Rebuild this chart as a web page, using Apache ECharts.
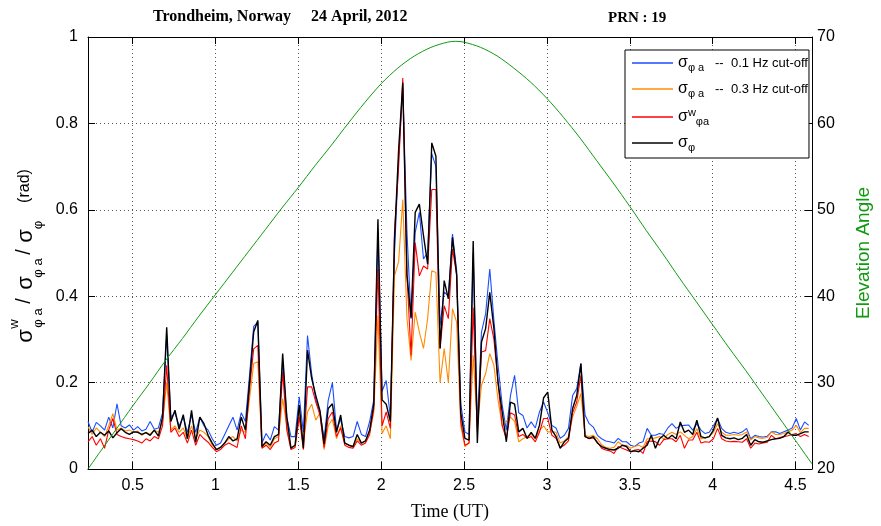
<!DOCTYPE html>
<html>
<head>
<meta charset="utf-8">
<script src="https://cdn.jsdelivr.net/npm/echarts@6/dist/echarts.min.js"></script>
<style>
  html, body { margin: 0; padding: 0; background: #fff; }
  #chart { width: 881px; height: 526px; }
</style>
</head>
<body>
<div id="chart"></div>
<script>
// samples every 1.5 min (0.025 h) starting at 0.23 UT
const startTime = 0.23;
const stepTime = 0.025;

// sigma_phi_a, 0.1 Hz cut-off
const blue = [
  0.11, 0.085, 0.108, 0.1, 0.09, 0.12, 0.095, 0.151, 0.1, 0.095,
  0.102, 0.09, 0.098, 0.088, 0.092, 0.11, 0.092, 0.095, 0.13, 0.31,
  0.12, 0.13, 0.1, 0.12, 0.085, 0.125, 0.085, 0.12, 0.1, 0.09,
  0.07, 0.055, 0.06, 0.08, 0.1, 0.12, 0.09, 0.13, 0.11, 0.217,
  0.33, 0.34, 0.06, 0.082, 0.067, 0.098, 0.09, 0.25, 0.12, 0.075,
  0.075, 0.167, 0.085, 0.309, 0.22, 0.16, 0.132, 0.07, 0.159, 0.2,
  0.09, 0.115, 0.075, 0.072, 0.075, 0.11, 0.08, 0.075, 0.11, 0.16,
  0.548, 0.18, 0.205, 0.12, 0.5, 0.72, 0.88, 0.55, 0.348, 0.548,
  0.594, 0.486, 0.501, 0.73, 0.7, 0.332, 0.41, 0.4, 0.544, 0.46,
  0.15, 0.086, 0.08, 0.5, 0.1, 0.317, 0.359, 0.463, 0.344, 0.24,
  0.148, 0.09, 0.17, 0.217, 0.13, 0.124, 0.095, 0.109, 0.095, 0.132,
  0.155, 0.13, 0.101, 0.095, 0.071, 0.078, 0.094, 0.17, 0.186, 0.244,
  0.125, 0.105, 0.097, 0.078, 0.07, 0.065, 0.063, 0.06, 0.071, 0.063,
  0.063, 0.055, 0.052, 0.06, 0.063, 0.094, 0.078, 0.078, 0.082, 0.08,
  0.095, 0.105, 0.094, 0.1, 0.101, 0.102, 0.09, 0.105, 0.09, 0.082,
  0.085, 0.1, 0.117, 0.094, 0.085, 0.082, 0.085, 0.082, 0.086, 0.094,
  0.07, 0.078, 0.075, 0.074, 0.076, 0.086, 0.086, 0.082, 0.086, 0.09,
  0.095, 0.117, 0.09, 0.109, 0.101
];
// sigma_phi_a, 0.3 Hz cut-off
const orange = [
  0.098, 0.08, 0.095, 0.085, 0.075, 0.1, 0.128, 0.09, 0.095, 0.088,
  0.09, 0.085, 0.088, 0.078, 0.085, 0.08, 0.09, 0.085, 0.11, 0.2,
  0.09, 0.1, 0.085, 0.095, 0.07, 0.1, 0.07, 0.09, 0.085, 0.075,
  0.055, 0.045, 0.05, 0.06, 0.07, 0.075, 0.065, 0.09, 0.085, 0.163,
  0.244, 0.248, 0.05, 0.06, 0.05, 0.07, 0.075, 0.163, 0.1, 0.05,
  0.055, 0.13, 0.06, 0.132, 0.15, 0.113, 0.13, 0.045, 0.1, 0.115,
  0.07, 0.1, 0.06, 0.055, 0.05, 0.07, 0.06, 0.065, 0.085, 0.13,
  0.355, 0.082, 0.1, 0.07, 0.447, 0.48, 0.624, 0.35, 0.251, 0.363,
  0.317, 0.279, 0.348, 0.459, 0.455, 0.2, 0.279, 0.2, 0.371, 0.34,
  0.1, 0.052, 0.06, 0.263, 0.1, 0.194, 0.221, 0.267, 0.24, 0.16,
  0.1, 0.11, 0.12, 0.11, 0.063, 0.07, 0.075, 0.08, 0.07, 0.09,
  0.1, 0.086, 0.086, 0.085, 0.06, 0.065, 0.075, 0.12, 0.145, 0.175,
  0.078, 0.075, 0.078, 0.07, 0.056, 0.05, 0.048, 0.05, 0.063, 0.055,
  0.055, 0.048, 0.052, 0.055, 0.05, 0.07, 0.07, 0.072, 0.075, 0.07,
  0.08, 0.085, 0.08, 0.086, 0.078, 0.07, 0.075, 0.093, 0.07, 0.072,
  0.075, 0.085, 0.105, 0.085, 0.078, 0.078, 0.08, 0.078, 0.08, 0.086,
  0.067, 0.075, 0.072, 0.071, 0.073, 0.086, 0.08, 0.08, 0.082, 0.086,
  0.09, 0.101, 0.084, 0.094, 0.094
];
// sigma^w_phi_a
const red = [
  0.063, 0.075, 0.055, 0.07, 0.048, 0.09, 0.117, 0.08, 0.075, 0.072,
  0.07, 0.068, 0.065, 0.06, 0.07, 0.065, 0.075, 0.07, 0.1, 0.24,
  0.085, 0.095, 0.075, 0.085, 0.06, 0.09, 0.055, 0.08, 0.07, 0.062,
  0.05, 0.04, 0.045, 0.055, 0.06, 0.055, 0.05, 0.1, 0.07, 0.186,
  0.278, 0.286, 0.048, 0.055, 0.045, 0.06, 0.065, 0.225, 0.09, 0.045,
  0.05, 0.12, 0.045, 0.19, 0.19, 0.155, 0.125, 0.05, 0.117, 0.132,
  0.075, 0.095, 0.055, 0.05, 0.048, 0.065, 0.055, 0.06, 0.08, 0.14,
  0.463, 0.1, 0.132, 0.094, 0.55, 0.7, 0.905, 0.45, 0.263, 0.524,
  0.447, 0.47, 0.463, 0.647, 0.647, 0.279, 0.378, 0.348, 0.509, 0.45,
  0.11, 0.055, 0.06, 0.374, 0.086, 0.271, 0.274, 0.348, 0.3, 0.2,
  0.1, 0.07, 0.13, 0.125, 0.075, 0.08, 0.071, 0.075, 0.063, 0.085,
  0.117, 0.117, 0.078, 0.071, 0.05, 0.055, 0.065, 0.13, 0.155, 0.217,
  0.075, 0.07, 0.072, 0.062, 0.048, 0.044, 0.042, 0.036, 0.052, 0.048,
  0.044, 0.04, 0.044, 0.045, 0.036, 0.063, 0.065, 0.063, 0.055, 0.068,
  0.07, 0.07, 0.063, 0.078, 0.048, 0.067, 0.067, 0.085, 0.06, 0.063,
  0.062, 0.07, 0.094, 0.07, 0.065, 0.063, 0.064, 0.063, 0.062, 0.07,
  0.048, 0.06, 0.058, 0.06, 0.062, 0.078, 0.07, 0.073, 0.075, 0.077,
  0.08, 0.082, 0.075, 0.08, 0.075
];
// sigma_phi
const black = [
  0.082, 0.09, 0.075, 0.085, 0.078, 0.088, 0.072, 0.084, 0.093, 0.085,
  0.08, 0.086, 0.085, 0.08, 0.084, 0.078, 0.09, 0.076, 0.12, 0.328,
  0.11, 0.136, 0.092, 0.126, 0.07, 0.136, 0.062, 0.12, 0.105, 0.078,
  0.06, 0.045, 0.05, 0.06, 0.075, 0.065, 0.07, 0.12, 0.09, 0.2,
  0.317, 0.344, 0.052, 0.063, 0.055, 0.075, 0.08, 0.267, 0.12, 0.048,
  0.055, 0.148, 0.048, 0.275, 0.21, 0.17, 0.135, 0.058, 0.14, 0.151,
  0.085, 0.125, 0.06, 0.055, 0.052, 0.08, 0.06, 0.065, 0.09, 0.15,
  0.578, 0.16, 0.15, 0.11, 0.53, 0.74, 0.894, 0.45, 0.35, 0.594,
  0.613, 0.54, 0.474, 0.755, 0.724, 0.279, 0.436, 0.394, 0.536, 0.45,
  0.13, 0.071, 0.067, 0.528, 0.06, 0.294, 0.325, 0.409, 0.325, 0.2,
  0.132, 0.063, 0.155, 0.15, 0.086, 0.094, 0.071, 0.085, 0.071, 0.101,
  0.165, 0.178, 0.09, 0.075, 0.048, 0.063, 0.071, 0.14, 0.17, 0.244,
  0.075, 0.071, 0.075, 0.06, 0.052, 0.048, 0.045, 0.044, 0.048, 0.055,
  0.052, 0.04, 0.042, 0.04, 0.048, 0.055, 0.078, 0.048, 0.07, 0.078,
  0.07, 0.078, 0.07, 0.109, 0.085, 0.09, 0.08, 0.113, 0.075, 0.072,
  0.075, 0.09, 0.118, 0.078, 0.072, 0.07, 0.072, 0.068, 0.071, 0.08,
  0.055, 0.068, 0.063, 0.062, 0.065, 0.068, 0.07, 0.071, 0.075, 0.085,
  0.078, 0.078, 0.082, 0.086, 0.086
];

// elevation angle (deg)
const elevTime = [0.23, 0.3, 0.4, 0.5, 0.6, 0.7, 0.8, 0.9, 1.0, 1.1, 1.2, 1.3, 1.4, 1.5,
  1.6, 1.7, 1.8, 1.9, 2.0, 2.1, 2.2, 2.3, 2.4, 2.45, 2.5, 2.6, 2.7, 2.8, 2.9, 3.0,
  3.1, 3.2, 3.3, 3.4, 3.5, 3.6, 3.7, 3.8, 3.9, 4.0, 4.1, 4.2, 4.3, 4.4, 4.5, 4.6];
const elevation = [20.0, 21.9, 24.6, 27.3, 29.9, 32.6, 35.1, 37.7, 40.2, 42.7, 45.2, 47.7, 50.2, 52.6,
  55.1, 57.5, 60.0, 62.4, 64.6, 66.4, 67.8, 68.8, 69.4, 69.5, 69.4, 68.8, 67.8, 66.4, 64.8, 62.9,
  60.7, 58.3, 55.7, 53.1, 50.4, 47.6, 44.9, 42.1, 39.4, 36.7, 34.0, 31.4, 28.7, 26.0, 23.3, 20.6];

const names = ['s01', 's03', 'sw', 'sphi'];
const legendText = {
  s01: '{s|σ}{sub|φ a}{t|   --  0.1 Hz cut-off}',
  s03: '{s|σ}{sub|φ a}{t|   --  0.3 Hz cut-off}',
  sw: '{s|σ}{sup|w}{sub|φa}',
  sphi: '{s|σ}{sub|φ}'
};

const times = blue.map((_, i) => +(startTime + i * stepTime).toFixed(3));
const pair = arr => arr.map((v, i) => [times[i], v]);

const sans = '"Liberation Sans", Arial, Helvetica, sans-serif';
const serif = '"Liberation Serif", "Times New Roman", serif';

const chart = echarts.init(document.getElementById('chart'));

const tickStyle = { inside: true, length: 7, lineStyle: { color: '#000', width: 1 } };
const dotted = { show: true, lineStyle: { color: '#555', type: [1, 3], width: 1 } };

chart.setOption({
  animation: false,
  backgroundColor: '#fff',
  title: [
    { text: 'Trondheim, Norway     24 April, 2012', left: 153, top: 9, padding: 0,
      textStyle: { fontFamily: serif, fontWeight: 'bold', fontSize: 16, color: '#000' } },
    { text: 'PRN : 19', left: 608, top: 11, padding: 0,
      textStyle: { fontFamily: serif, fontWeight: 'bold', fontSize: 15, color: '#000' } }
  ],
  grid: { left: 88, right: 63, top: 37, bottom: 55, containLabel: false },
  legend: {
    data: names,
    orient: 'vertical',
    left: 625, top: 50,
    padding: [5, 1, 5, 7],
    itemGap: 8,
    itemWidth: 41,
    itemHeight: 1.3,
    icon: 'rect',
    backgroundColor: '#fff',
    borderColor: '#000',
    borderWidth: 1,
    borderRadius: 0,
    formatter: name => legendText[name],
    textStyle: {
      color: '#000',
      fontFamily: sans,
      rich: {
        s: { fontSize: 16, fontFamily: sans, lineHeight: 20, verticalAlign: 'middle' },
        sub: { fontSize: 11, fontFamily: sans, lineHeight: 9, verticalAlign: 'bottom' },
        sup: { fontSize: 11, fontFamily: sans, lineHeight: 11, verticalAlign: 'top' },
        t: { fontSize: 13, fontFamily: sans, lineHeight: 20, verticalAlign: 'middle' }
      }
    }
  },
  xAxis: [
    {
      type: 'value', min: 0.23, max: 4.6, splitNumber: 8,
      name: 'Time (UT)', nameLocation: 'middle', nameGap: 34,
      nameTextStyle: { fontFamily: serif, fontSize: 18, color: '#000' },
      axisLine: { show: true, onZero: false, lineStyle: { color: '#000', width: 1 } },
      axisTick: tickStyle,
      axisLabel: { fontFamily: sans, fontSize: 16, color: '#000', margin: 9,
        showMinLabel: false, showMaxLabel: false },
      splitLine: dotted
    },
    {
      type: 'value', position: 'top', min: 0.23, max: 4.6, splitNumber: 8,
      axisLine: { show: true, onZero: false, lineStyle: { color: '#000', width: 1 } },
      axisTick: tickStyle,
      axisLabel: { show: false },
      splitLine: { show: false }
    }
  ],
  yAxis: [
    {
      type: 'value', min: 0, max: 1, interval: 0.2,
      axisLine: { show: true, lineStyle: { color: '#000', width: 1 } },
      axisTick: tickStyle,
      axisLabel: { fontFamily: sans, fontSize: 16, color: '#000', margin: 10 },
      splitLine: dotted
    },
    {
      type: 'value', position: 'right', min: 20, max: 70, interval: 10,
      name: 'Elevation Angle', nameLocation: 'middle', nameGap: 42, nameRotate: 90,
      nameTextStyle: { fontFamily: sans, fontSize: 19, color: '#119911' },
      axisLine: { show: true, lineStyle: { color: '#000', width: 1 } },
      axisTick: tickStyle,
      axisLabel: { fontFamily: sans, fontSize: 16, color: '#000', margin: 5 },
      splitLine: { show: false }
    }
  ],
  graphic: [
    {
      type: 'group', x: 32, y: 345, rotation: Math.PI / 2,
      children: [
        { type: 'text', x: 9, y: -6, style: { text: 'σ', fontSize: 22, fontFamily: sans, fill: '#000', align: 'center', verticalAlign: 'middle' } },
        { type: 'text', x: 21, y: -18, style: { text: 'w', fontSize: 13, fontFamily: sans, fill: '#000', align: 'center', verticalAlign: 'middle' } },
        { type: 'text', x: 27, y: 6, style: { text: 'φ a', fontSize: 13, fontFamily: sans, fill: '#000', align: 'center', verticalAlign: 'middle' } },
        { type: 'text', x: 44, y: -8, style: { text: '/', fontSize: 20, fontFamily: sans, fill: '#000', align: 'center', verticalAlign: 'middle' } },
        { type: 'text', x: 62, y: -6, style: { text: 'σ', fontSize: 22, fontFamily: sans, fill: '#000', align: 'center', verticalAlign: 'middle' } },
        { type: 'text', x: 77, y: 6, style: { text: 'φ a', fontSize: 13, fontFamily: sans, fill: '#000', align: 'center', verticalAlign: 'middle' } },
        { type: 'text', x: 93, y: -8, style: { text: '/', fontSize: 20, fontFamily: sans, fill: '#000', align: 'center', verticalAlign: 'middle' } },
        { type: 'text', x: 109, y: -6, style: { text: 'σ', fontSize: 22, fontFamily: sans, fill: '#000', align: 'center', verticalAlign: 'middle' } },
        { type: 'text', x: 120, y: 6, style: { text: 'φ', fontSize: 13, fontFamily: sans, fill: '#000', align: 'center', verticalAlign: 'middle' } },
        { type: 'text', x: 159, y: -7, style: { text: '(rad)', fontSize: 16, fontFamily: sans, fill: '#000', align: 'center', verticalAlign: 'middle' } }
      ]
    }
  ],
  series: [
    { name: 's01', type: 'line', data: pair(blue), symbol: 'none', color: '#1a4dff', lineStyle: { width: 1.1 } },
    { name: 's03', type: 'line', data: pair(orange), symbol: 'none', color: '#ff8c00', lineStyle: { width: 1.1 } },
    { name: 'sw', type: 'line', data: pair(red), symbol: 'none', color: '#ff0000', lineStyle: { width: 1.1 } },
    { name: 'sphi', type: 'line', data: pair(black), symbol: 'none', color: '#000000', lineStyle: { width: 1.4 } },
    { name: 'elev', type: 'line', yAxisIndex: 1, data: elevTime.map((t, i) => [t, elevation[i]]),
      symbol: 'none', smooth: 0.3, color: '#119911', lineStyle: { width: 1 } }
  ]
});
</script>
</body>
</html>
